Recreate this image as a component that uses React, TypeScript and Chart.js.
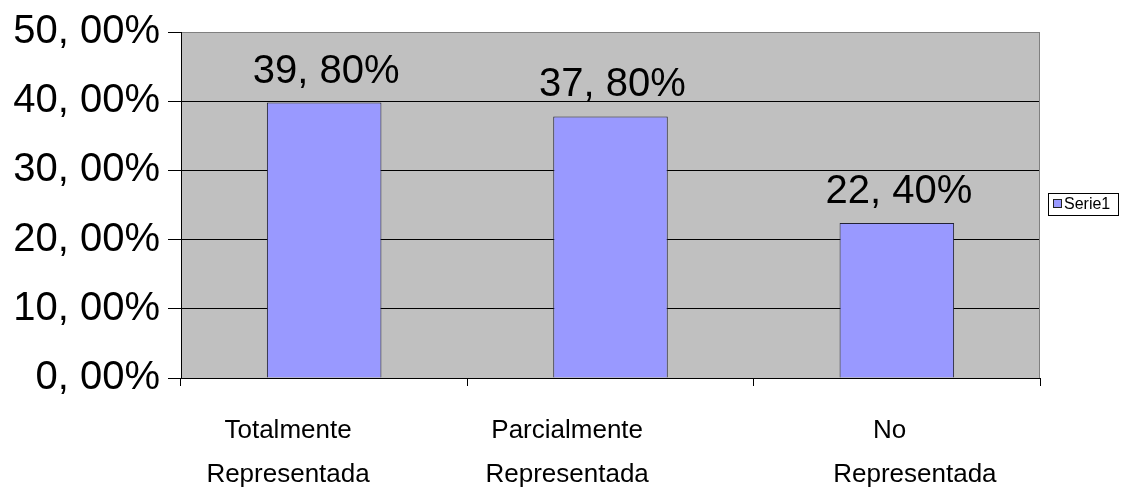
import React, { useEffect, useRef } from "react";
import { Chart, registerables } from "chart.js";

Chart.register(...registerables);

const categories: string[][] = [
  ["Totalmente          ", "Representada          "],
  ["Parcialmente            ", "Representada            "],
  ["No  ", "     Representada"],
];
const serie1: number[] = [39.8, 37.8, 22.4];
const yTicks: number[] = [0, 10, 20, 30, 40, 50];
const seriesName = "Serie1";

const fmt = (v: number) => v.toFixed(2).replace(".", ", ") + "%";

const FONT = "'Liberation Sans', Arial, sans-serif";

export default function App() {
  const ref = useRef<HTMLCanvasElement | null>(null);

  useEffect(() => {
    if (!ref.current) return;
    const bgPlugin = {
      id: "plotBg",
      beforeDraw(chart: any) {
        const { ctx, chartArea: a } = chart;
        ctx.save();
        ctx.fillStyle = "#C0C0C0";
        ctx.fillRect(a.left, a.top, a.right - a.left, a.bottom - a.top);
        ctx.restore();
      },
      afterDraw(chart: any) {
        const { ctx, chartArea: a } = chart;
        ctx.save();
        ctx.strokeStyle = "#808080";
        ctx.lineWidth = 1;
        ctx.beginPath();
        ctx.moveTo(Math.round(a.right) - 0.5, a.top);
        ctx.lineTo(Math.round(a.right) - 0.5, a.bottom);
        ctx.stroke();
        // data labels
        const meta = chart.getDatasetMeta(0);
        ctx.fillStyle = "#000";
        ctx.font = `40px ${FONT}`;
        ctx.textAlign = "center";
        ctx.textBaseline = "alphabetic";
        meta.data.forEach((bar: any, i: number) => {
          ctx.fillText(fmt(serie1[i]), bar.x + 2, bar.y - 20);
        });
        // legend
        const lx = 1048, ly = 193, lw = 71, lh = 23;
        ctx.fillStyle = "#fff";
        ctx.fillRect(lx, ly, lw, lh);
        ctx.strokeStyle = "#000";
        ctx.strokeRect(lx + 0.5, ly + 0.5, lw - 1, lh - 1);
        ctx.fillStyle = "#9999FF";
        ctx.fillRect(1053, 199, 8, 8);
        ctx.strokeStyle = "#222";
        ctx.strokeRect(1053.5, 199.5, 8, 8);
        ctx.fillStyle = "#000";
        ctx.font = `16px ${FONT}`;
        ctx.textAlign = "left";
        ctx.textBaseline = "middle";
        ctx.fillText(seriesName, 1064, 204.5);
        ctx.restore();
      },
    };

    const chart = new Chart(ref.current, {
      type: "bar",
      data: {
        labels: categories,
        datasets: [
          {
            label: seriesName,
            data: serie1,
            backgroundColor: "#9999FF",
            borderColor: "#222233",
            borderWidth: 1,
            categoryPercentage: 1,
            barPercentage: 0.4,
          },
        ],
      },
      options: {
        animation: false,
        responsive: false,
        devicePixelRatio: 1,
        layout: { padding: { left: 0, right: 81, top: 30, bottom: 0 } },
        plugins: {
          legend: { display: false },
          tooltip: { enabled: false },
        },
        scales: {
          x: {
            offset: true,
            grid: {
              offset: true,
              drawOnChartArea: false,
              drawTicks: true,
              tickLength: 8,
              color: "#000",
            },
            border: { display: true, color: "#000" },
            ticks: {
              color: "#000",
              font: { family: FONT, size: 26, lineHeight: 1.68 },
              padding: 23,
              maxRotation: 0,
              autoSkip: false,
            },
            afterFit(scale: any) {
              scale.height = 111;
            },
          },
          y: {
            min: 0,
            max: 50,
            afterBuildTicks(scale: any) {
              scale.ticks = yTicks.map((v) => ({ value: v }));
            },
            grid: {
              color: (c: any) => (c.tick && c.tick.value === 50 ? "#808080" : "#000"),
              tickColor: "#000",
              tickLength: 13,
            },
            border: { display: true, color: "#000" },
            ticks: {
              color: "#000",
              font: { family: FONT, size: 40 },
              padding: 8,
              callback: (v: any) => fmt(Number(v)),
            },
            afterFit(scale: any) {
              scale.width = 181;
            },
          },
        },
      },
      plugins: [bgPlugin],
    });
    return () => chart.destroy();
  }, []);

  return (
    <div style={{ position: "absolute", left: 0, top: 0, width: 1121, height: 489, background: "#fff" }}>
      <canvas ref={ref} width={1121} height={489} style={{ width: 1121, height: 489 }} />
    </div>
  );
}
